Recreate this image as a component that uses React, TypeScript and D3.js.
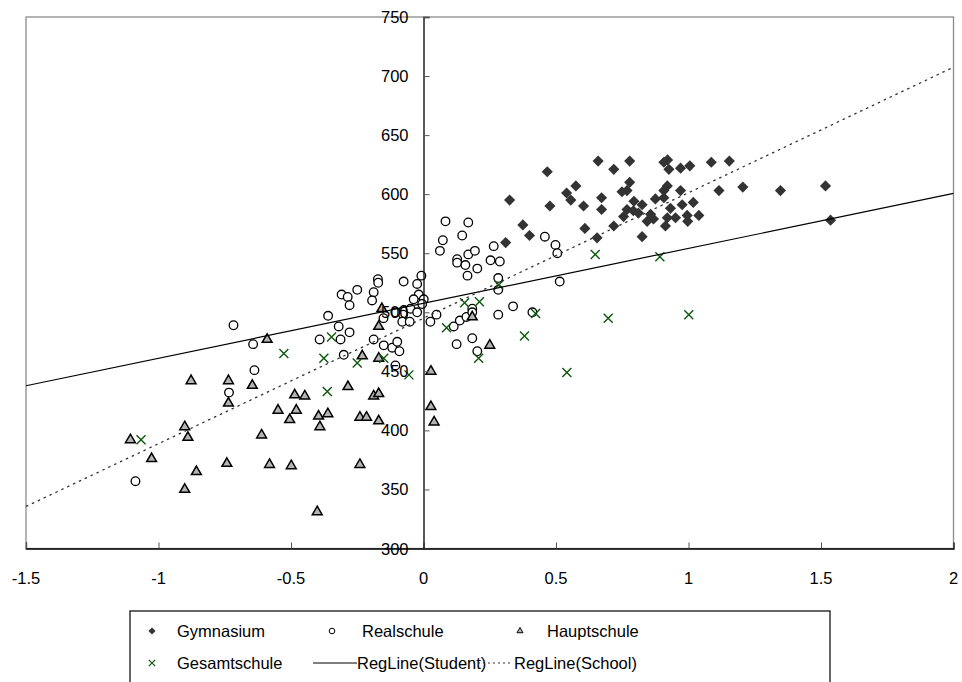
import { useEffect, useRef } from "react";
import * as d3 from "d3";

// values: [x, score]
const gymnasium = [
  [0.31, 559], [0.325, 595], [0.375, 574], [0.40, 565], [0.467, 619], [0.477, 590],
  [0.54, 601], [0.556, 595], [0.575, 607], [0.604, 590], [0.609, 571], [0.655, 563],
  [0.659, 628], [0.672, 597], [0.672, 587], [0.718, 621], [0.718, 573], [0.749, 602],
  [0.768, 603], [0.778, 628], [0.778, 610], [0.755, 581], [0.768, 587], [0.792, 586],
  [0.811, 584], [0.794, 594], [0.825, 591], [0.825, 564], [0.844, 577], [0.857, 583],
  [0.868, 579], [0.875, 596], [0.907, 597], [0.907, 603], [0.92, 607], [0.907, 627],
  [0.921, 629], [0.926, 621], [0.932, 588], [0.92, 580], [0.951, 580], [0.913, 573],
  [0.97, 622], [1.005, 624], [0.97, 603], [0.976, 591], [1.018, 593], [0.995, 582],
  [0.997, 577], [1.039, 582], [1.086, 627], [1.115, 603], [1.154, 628], [1.205, 606],
  [1.347, 603], [1.517, 607], [1.536, 578],
];

const realschule = [
  [-1.087, 357], [-0.734, 432], [-0.717, 489], [-0.643, 473], [-0.638, 451], [-0.392, 477],
  [-0.36, 497], [-0.32, 488], [-0.313, 477], [-0.301, 464], [-0.279, 483], [-0.309, 515],
  [-0.286, 513], [-0.279, 506], [-0.25, 519], [-0.188, 517], [-0.194, 510], [-0.172, 528],
  [-0.171, 525], [-0.075, 526], [-0.008, 531], [-0.024, 524], [-0.018, 515], [-0.037, 511],
  [0.001, 511], [-0.005, 507], [-0.074, 502], [-0.049, 503], [-0.024, 500], [-0.077, 498],
  [-0.08, 492], [-0.052, 492], [-0.106, 500], [-0.151, 495], [-0.188, 477], [-0.15, 472],
  [-0.118, 470], [-0.099, 475], [-0.091, 467], [-0.106, 455], [0.026, 492], [0.049, 498],
  [0.062, 552], [0.073, 561], [0.083, 577], [0.146, 565], [0.169, 576], [0.127, 545],
  [0.127, 542], [0.169, 549], [0.194, 552], [0.158, 540], [0.166, 531], [0.203, 537],
  [0.114, 488], [0.137, 493], [0.162, 496], [0.184, 503], [0.184, 500], [0.184, 478],
  [0.125, 473], [0.203, 467], [0.265, 556], [0.253, 544], [0.288, 543], [0.282, 529],
  [0.282, 519], [0.282, 498], [0.338, 505], [0.411, 500], [0.458, 564], [0.498, 557],
  [0.505, 550], [0.514, 526],
];

const hauptschule = [
  [-1.106, 392], [-1.026, 376], [-0.877, 442], [-0.901, 403], [-0.889, 394], [-0.857, 365],
  [-0.901, 350], [-0.736, 442], [-0.736, 423], [-0.742, 372], [-0.646, 438], [-0.59, 477],
  [-0.611, 396], [-0.581, 371], [-0.499, 370], [-0.549, 417], [-0.48, 417], [-0.505, 409],
  [-0.486, 430], [-0.448, 429], [-0.396, 412], [-0.361, 414], [-0.391, 403], [-0.401, 331],
  [-0.285, 437], [-0.24, 411], [-0.215, 411], [-0.24, 371], [-0.231, 463], [-0.188, 429],
  [-0.169, 431], [-0.169, 408], [-0.169, 461], [-0.169, 488], [-0.157, 503], [0.028, 450],
  [0.028, 420], [0.04, 407], [0.184, 496], [0.25, 472],
];

const gesamtschule = [
  [-1.066, 392], [-0.527, 465], [-0.347, 479], [-0.376, 461], [-0.363, 433], [-0.25, 457],
  [-0.15, 461], [-0.055, 447], [0.087, 487], [0.155, 508], [0.211, 509], [0.284, 523],
  [0.423, 499], [0.381, 480], [0.208, 461], [0.541, 449], [0.648, 549], [0.892, 547],
  [0.697, 495], [1.001, 498],
];

// regression lines, end points at the x range
const studentLine = [[-1.5, 437.8], [2, 600.6]];
const schoolLine = [[-1.5, 335.6], [2, 707.5]];

const xTicks = [-1.5, -1, -0.5, 0, 0.5, 1, 1.5, 2];
const yTicks = [300, 350, 400, 450, 500, 550, 600, 650, 700, 750];

const FONT = "'Liberation Sans', Arial, sans-serif";
const FS = 16.5;
const GREEN = "#0d560d";

export default function App() {
  const svgRef = useRef(null);

  useEffect(() => {
    const width = 962;
    const height = 682;

    const svg = d3.select(svgRef.current)
      .attr("width", width)
      .attr("height", height)
      .style("background", "#ffffff");

    svg.selectAll("*").remove();

    const x = d3.scaleLinear().domain([-1.5, 2]).range([26, 953.5]);
    const y = d3.scaleLinear().domain([300, 750]).range([548.5, 17]);

    // plot frame
    svg.append("rect")
      .attr("x", x(-1.5)).attr("y", y(750))
      .attr("width", x(2) - x(-1.5)).attr("height", y(300) - y(750))
      .attr("fill", "none").attr("stroke", "#8c8c8c").attr("stroke-width", 1.3);

    const diamond = d3.symbol(d3.symbolSquare, 62);
    const tri = d3.symbol(d3.symbolTriangle, 42);
    const cross = "M-4.5,-4.5L4.5,4.5M-4.5,4.5L4.5,-4.5";

    svg.append("g").selectAll("path").data(gymnasium).join("path")
      .attr("d", diamond)
      .attr("transform", d => `translate(${x(d[0])},${y(d[1])}) rotate(45)`)
      .attr("fill", "#333333");

    svg.append("g").selectAll("circle").data(realschule).join("circle")
      .attr("cx", d => x(d[0])).attr("cy", d => y(d[1])).attr("r", 4.3)
      .attr("fill", "#ffffff").attr("stroke", "#000").attr("stroke-width", 1.3);

    svg.append("g").selectAll("path").data(hauptschule).join("path")
      .attr("d", tri)
      .attr("transform", d => `translate(${x(d[0])},${y(d[1])})`)
      .attr("fill", "#b4b4b4").attr("stroke", "#000").attr("stroke-width", 1.5);

    svg.append("g").selectAll("path").data(gesamtschule).join("path")
      .attr("d", cross)
      .attr("transform", d => `translate(${x(d[0])},${y(d[1])})`)
      .attr("fill", "none").attr("stroke", GREEN).attr("stroke-width", 1.4);

    const line = d3.line().x(d => x(d[0])).y(d => y(d[1]));

    svg.append("path").datum(studentLine)
      .attr("d", line).attr("fill", "none")
      .attr("stroke", "#000").attr("stroke-width", 1.2);

    svg.append("path").datum(schoolLine)
      .attr("d", line).attr("fill", "none")
      .attr("stroke", "#333").attr("stroke-width", 1.3)
      .attr("stroke-dasharray", "2.5,4");

    // x axis at y = 300
    const xAxis = svg.append("g")
      .attr("transform", `translate(0,${y(300)})`)
      .call(d3.axisTop(x).tickValues(xTicks).tickSize(6).tickFormat(() => ""));
    xAxis.select(".domain").attr("stroke", "#000").attr("stroke-width", 1.3);
    xAxis.selectAll(".tick line").attr("stroke", "#555");

    svg.append("g").selectAll("text").data(xTicks).join("text")
      .attr("x", d => x(d)).attr("y", 578)
      .attr("text-anchor", "middle").attr("dominant-baseline", "central")
      .attr("font-family", FONT).attr("font-size", FS)
      .text(d => String(d));

    // y axis at x = 0
    const yAxis = svg.append("g")
      .attr("transform", `translate(${x(0)},0)`)
      .call(d3.axisRight(y).tickValues(yTicks).tickSize(6).tickFormat(() => ""));
    yAxis.select(".domain").attr("stroke", "#000").attr("stroke-width", 1.3);
    yAxis.selectAll(".tick line").attr("stroke", "#555");

    svg.append("g").selectAll("text").data(yTicks).join("text")
      .attr("x", x(0) - 15).attr("y", d => y(d))
      .attr("text-anchor", "end").attr("dominant-baseline", "central")
      .attr("font-family", FONT).attr("font-size", FS)
      .text(d => d);

    // legend
    const lg = svg.append("g");
    lg.append("rect")
      .attr("x", 130).attr("y", 611).attr("width", 700).attr("height", 72)
      .attr("fill", "#fff").attr("stroke", "#000").attr("stroke-width", 1.2);

    const row1 = 631, row2 = 663;
    const text = (tx, ty, s) => lg.append("text")
      .attr("x", tx).attr("y", ty).attr("dominant-baseline", "central")
      .attr("font-family", FONT).attr("font-size", FS).text(s);

    lg.append("path").attr("d", d3.symbol(d3.symbolSquare, 26))
      .attr("transform", `translate(152,${row1}) rotate(45)`).attr("fill", "#333");
    text(177, row1, "Gymnasium");

    lg.append("circle").attr("cx", 332).attr("cy", row1).attr("r", 2.8)
      .attr("fill", "#fff").attr("stroke", "#000").attr("stroke-width", 1);
    text(362, row1, "Realschule");

    lg.append("path").attr("d", d3.symbol(d3.symbolTriangle, 16))
      .attr("transform", `translate(520,${row1})`)
      .attr("fill", "#b4b4b4").attr("stroke", "#000").attr("stroke-width", 1);
    text(547, row1, "Hauptschule");

    lg.append("path").attr("d", "M-3.2,-3.2L3.2,3.2M-3.2,3.2L3.2,-3.2")
      .attr("transform", `translate(152,${row2})`)
      .attr("stroke", GREEN).attr("stroke-width", 1.2).attr("fill", "none");
    text(177, row2, "Gesamtschule");

    lg.append("line").attr("x1", 313).attr("x2", 357).attr("y1", row2).attr("y2", row2)
      .attr("stroke", "#000").attr("stroke-width", 1.2);
    text(357, row2, "RegLine(Student)");

    lg.append("line").attr("x1", 473).attr("x2", 513).attr("y1", row2).attr("y2", row2)
      .attr("stroke", "#333").attr("stroke-width", 1.2).attr("stroke-dasharray", "2,3");
    text(514, row2, "RegLine(School)");
  }, []);

  return <svg ref={svgRef} style={{ position: "absolute", left: 0, top: 0 }}></svg>;
}
